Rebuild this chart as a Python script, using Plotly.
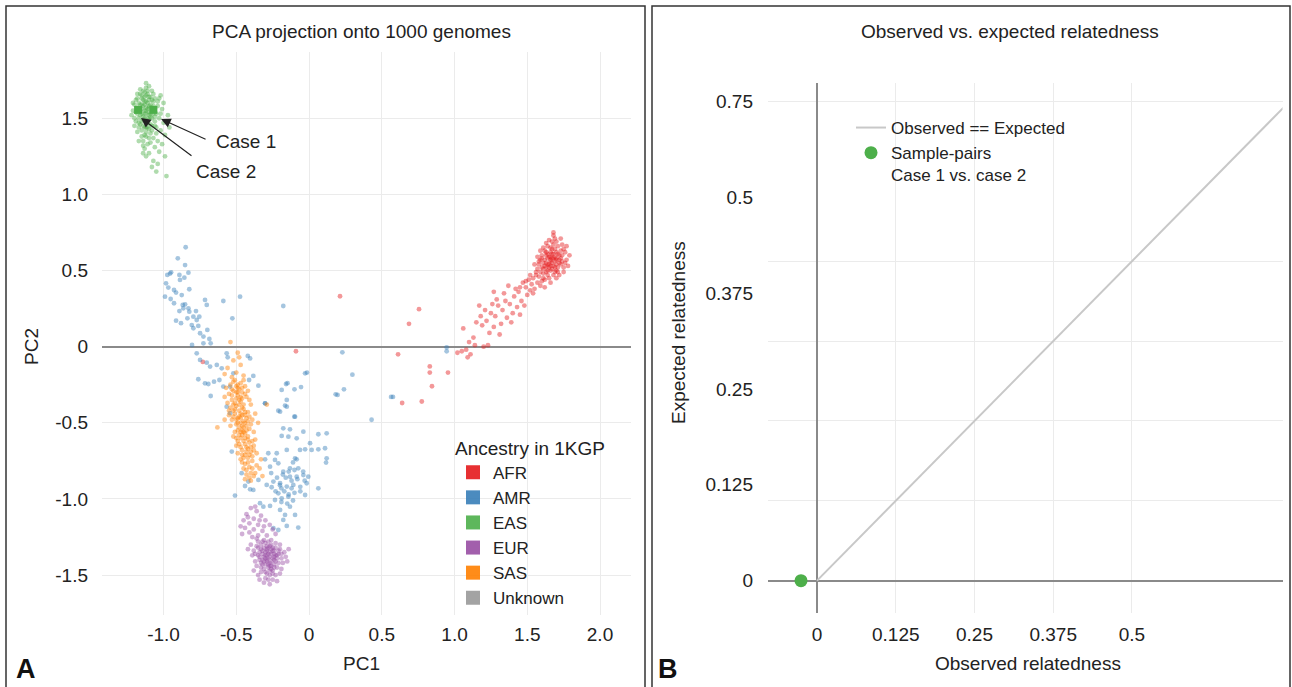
import plotly.graph_objects as go

W, H = 1292, 687

# ---------------- data ----------------
groups = ["AFR", "AMR", "EAS", "EUR", "SAS", "Unknown"]
group_colors = ["#E41A1C", "#377EB8", "#4DAF4A", "#984EA3", "#FF7F00", "#999999"]

eas_points = [
    (-1.13,1.55),(-1.10,1.58),(-1.16,1.52),(-1.12,1.61),(-1.08,1.50),(-1.15,1.63),(-1.11,1.47),(-1.18,1.57),(-1.06,1.56),(-1.14,1.49),
    (-1.09,1.64),(-1.12,1.53),(-1.17,1.60),(-1.07,1.61),(-1.13,1.44),(-1.10,1.52),(-1.19,1.54),(-1.05,1.53),(-1.14,1.58),(-1.11,1.66),
    (-1.16,1.46),(-1.08,1.45),(-1.12,1.41),(-1.15,1.56),(-1.09,1.59),(-1.13,1.67),(-1.20,1.59),(-1.04,1.58),(-1.10,1.43),(-1.17,1.50),
    (-1.07,1.53),(-1.13,1.50),(-1.11,1.56),(-1.14,1.62),(-1.06,1.48),(-1.18,1.63),(-1.12,1.38),(-1.09,1.40),(-1.15,1.42),(-1.10,1.62),
    (-1.16,1.66),(-1.08,1.68),(-1.12,1.70),(-1.14,1.35),(-1.07,1.37),(-1.11,1.33),(-1.05,1.44),(-1.03,1.50),(-1.19,1.48),(-1.21,1.55),
    (-1.13,1.59),(-1.10,1.49),(-1.15,1.53),(-1.08,1.55),(-1.12,1.47),(-1.17,1.44),(-1.06,1.63),(-1.14,1.68),(-1.10,1.71),(-1.16,1.69),
    (-1.09,1.34),(-1.13,1.30),(-1.06,1.31),(-1.10,1.27),(-1.04,1.35),(-1.02,1.42),(-1.15,1.38),(-1.12,1.25),(-1.07,1.22),(-1.03,1.28),
    (-1.18,1.41),(-1.20,1.50),(-1.11,1.60),(-1.13,1.64),(-1.09,1.46),(-1.14,1.45),(-1.07,1.58),(-1.12,1.57),(-1.16,1.59),(-1.10,1.54),
    (-1.12,1.73),(-1.01,1.56),(-1.00,1.47),(-1.08,1.18),(-0.99,1.25),(-1.04,1.20),(-0.98,1.12),(-1.05,1.15),(-1.14,1.27),(-1.17,1.35),
    (-1.09,1.51),(-1.11,1.44),(-1.15,1.48),(-1.13,1.53),(-1.06,1.51),(-1.08,1.62),(-1.12,1.65),(-1.18,1.53),(-1.10,1.37),(-1.05,1.40),
    (-1.12,1.55),(-1.14,1.51),(-1.10,1.57),(-1.16,1.55),(-1.09,1.53),(-1.13,1.61),(-1.11,1.50),(-1.15,1.59),(-1.08,1.57),(-1.12,1.44),
    (-1.17,1.47),(-1.06,1.45),(-1.13,1.39),(-1.10,1.64),(-1.19,1.62),(-1.04,1.61),(-1.15,1.65),(-1.11,1.68),(-1.08,1.42),(-1.14,1.32),
    (-1.20,1.45),(-1.02,1.53),(-1.18,1.66),(-1.07,1.66),(-1.21,1.60),
    (-1.00,1.60),(-0.97,1.52),(-1.02,1.65),(-0.99,1.39),(-1.22,1.52),(-1.01,1.33),(-0.96,1.44),(-1.03,1.63),
]

afr_points = [
    (1.66,0.56),(1.70,0.58),(1.62,0.53),(1.68,0.61),(1.64,0.50),(1.72,0.55),(1.59,0.57),(1.67,0.64),(1.74,0.60),(1.61,0.48),
    (1.69,0.52),(1.65,0.59),(1.71,0.66),(1.57,0.51),(1.63,0.62),(1.75,0.52),(1.68,0.47),(1.60,0.60),(1.73,0.63),(1.66,0.53),
    (1.62,0.57),(1.70,0.50),(1.64,0.66),(1.77,0.57),(1.58,0.46),(1.67,0.69),(1.72,0.47),(1.55,0.54),(1.69,0.56),(1.65,0.45),
    (1.63,0.55),(1.71,0.61),(1.60,0.52),(1.68,0.58),(1.66,0.62),(1.74,0.67),(1.56,0.49),(1.64,0.58),(1.70,0.54),(1.62,0.44),
    (1.67,0.51),(1.73,0.58),(1.59,0.63),(1.65,0.70),(1.76,0.62),(1.61,0.55),(1.69,0.64),(1.54,0.45),(1.78,0.53),(1.66,0.59),
    (1.63,0.49),(1.71,0.52),(1.68,0.73),(1.70,0.69),(1.58,0.54),(1.64,0.61),(1.72,0.57),(1.67,0.55),(1.60,0.43),(1.65,0.52),
    (1.53,0.41),(1.57,0.42),(1.62,0.39),(1.55,0.38),(1.51,0.44),(1.59,0.40),(1.49,0.39),(1.66,0.42),(1.70,0.45),(1.75,0.49),
    (1.68,0.67),(1.63,0.68),(1.73,0.71),(1.77,0.66),(1.61,0.65),(1.79,0.60),(1.57,0.59),(1.69,0.49),(1.64,0.54),(1.66,0.57),
    (1.67,0.58),(1.63,0.60),(1.70,0.62),(1.65,0.54),(1.61,0.51),(1.72,0.60),(1.68,0.53),(1.66,0.65),(1.59,0.49),(1.74,0.56),
    (1.64,0.47),(1.69,0.59),(1.62,0.63),(1.71,0.49),(1.67,0.61),(1.58,0.56),(1.75,0.64),(1.60,0.58),(1.73,0.54),(1.66,0.50),
    (1.56,0.47),(1.52,0.47),(1.49,0.43),(1.45,0.39),(1.54,0.35),(1.61,0.45),(1.76,0.55),(1.69,0.71),(1.63,0.52),(1.70,0.57),
    (1.47,0.42),(1.44,0.36),(1.50,0.34),(1.46,0.30),(1.41,0.33),(1.52,0.37),(1.38,0.28),(1.43,0.26),(1.35,0.30),(1.40,0.22),
    (1.33,0.24),(1.36,0.19),(1.30,0.27),(1.28,0.20),(1.32,0.15),(1.25,0.22),(1.27,0.13),(1.22,0.17),(1.24,0.09),(1.19,0.14),
    (1.21,0.24),(1.48,0.27),(1.45,0.21),(1.39,0.16),(1.34,0.35),(1.29,0.31),(1.42,0.38),(1.37,0.40),(1.26,0.28),(1.31,0.08),
    (1.18,0.20),(1.15,0.16),(1.13,0.06),(1.10,0.03),(1.08,-0.02),(1.11,-0.05),(1.05,-0.03),(1.02,-0.04),(1.09,-0.07),(1.14,0.01),
    (1.20,0.00),(1.23,0.01),(1.06,0.12),(1.17,0.27),(1.27,0.36),(1.68,0.75),
    (0.756,0.246),(0.687,0.15),(0.612,-0.05),(0.83,-0.13),(0.83,-0.17),(0.955,-0.17),(0.845,-0.26),(0.64,-0.37),
    (0.775,-0.36),(0.213,0.331),(-0.09,-0.03),(-0.73,-0.10),
]

amr_points = [
    (-0.848,0.653),(-0.902,0.580),(-0.852,0.536),(-0.955,0.480),
    (-0.974,0.471),(-0.948,0.488),(-0.891,0.471),(-0.887,0.438),(-0.857,0.453),(-0.829,0.486),(-0.983,0.416),(-0.967,0.388),
    (-0.928,0.372),(-0.914,0.355),(-0.875,0.339),(-0.823,0.377),(-0.990,0.328),(-0.951,0.313),(-0.928,0.285),(-0.868,0.274),
    (-0.852,0.278),(-0.891,0.234),(-0.864,0.252),(-0.829,0.252),(-0.823,0.230),(-0.914,0.171),(-0.880,0.154),(-0.836,0.186),
    (-0.795,0.197),(-0.777,0.234),(-0.772,0.175),(-0.754,0.197),(-0.806,0.142),(-0.795,0.121),(-0.761,0.136),(-0.749,0.088),
    (-0.726,0.066),(-0.699,0.110),(-0.685,0.051),(-0.726,0.022),(-0.676,0.022),(-0.804,0.011),(-0.715,0.307),(-0.703,0.274),
    (-0.589,0.300),(-0.474,0.328),(-0.527,0.186),(-0.177,0.267),
    (-0.772,-0.044),(-0.749,-0.087),(-0.703,-0.105),(-0.680,-0.131),(-0.634,-0.120),(-0.600,-0.142),(-0.566,-0.044),(-0.559,-0.070),
    (-0.761,-0.214),(-0.715,-0.241),(-0.692,-0.245),(-0.653,-0.230),(-0.616,-0.219),(-0.589,-0.262),(-0.676,-0.324),(-0.543,-0.262),
    (-0.520,-0.175),(-0.421,-0.061),(-0.405,-0.077),(-0.412,-0.219),(-0.383,-0.192),(-0.348,-0.256),(-0.302,-0.372),(-0.211,-0.420),
    (-0.158,-0.245),(-0.188,-0.284),(-0.153,-0.350),(-0.165,-0.387),(-0.101,-0.460),(-0.055,-0.265),(-0.027,-0.175),(0.183,-0.313),
    (0.229,-0.037),(0.298,-0.184),(-0.566,-0.394),(-0.543,-0.437),(0.240,-0.280),(0.196,-0.317),(0.577,-0.330),(0.430,-0.480),
    (-0.014,-0.170),(-0.148,-0.240),(-0.100,-0.280),(0.946,-0.004),(0.946,-0.030),(0.564,-0.330),
    (-0.302,-0.372),(-0.153,-0.394),(-0.199,-0.427),(-0.096,-0.460),(-0.177,-0.536),(-0.131,-0.543),(-0.039,-0.558),(0.064,-0.575),
    (0.121,-0.569),(-0.188,-0.586),(-0.142,-0.591),(-0.085,-0.602),(0.007,-0.634),(0.018,-0.678),(0.064,-0.674),(0.110,-0.667),
    (0.121,-0.733),(0.117,-0.761),(-0.027,-0.674),(-0.062,-0.678),(-0.153,-0.678),(-0.222,-0.700),(-0.280,-0.700),(-0.302,-0.740),
    (-0.234,-0.744),(-0.211,-0.766),(-0.268,-0.788),(-0.096,-0.733),(-0.085,-0.740),(-0.131,-0.799),(-0.074,-0.799),(-0.177,-0.821),
    (-0.131,-0.854),(-0.085,-0.854),(-0.039,-0.843),(-0.005,-0.854),(-0.016,-0.897),(-0.108,-0.908),(-0.153,-0.919),(-0.199,-0.897),
    (-0.245,-0.886),(-0.257,-0.923),(-0.291,-0.908),(-0.348,-0.875),(-0.383,-0.941),(-0.405,-0.937),(-0.417,-0.886),(-0.440,-0.915),
    (-0.211,-0.963),(-0.188,-0.996),(-0.142,-0.985),(-0.234,-1.007),(-0.268,-1.046),(-0.199,-1.072),(-0.165,-1.105),(-0.131,-1.051),
    (-0.096,-1.105),(-0.177,-1.138),(-0.153,-1.177),(-0.074,-1.188),(-0.027,-0.974),(0.064,-0.930),(-0.509,-0.978),(-0.531,-0.689),
    (-0.463,-0.831),(-0.337,-1.028),(-0.314,-1.051),(-0.245,-1.192),(-0.211,-1.204),
    (-0.120,-0.880),(-0.170,-0.950),(-0.100,-0.960),(-0.220,-0.860),(-0.060,-0.920),(-0.140,-0.820),(-0.190,-0.930),(-0.110,-1.010),
    (-0.16,-0.86),(-0.12,-0.93),(-0.20,-0.91),(-0.08,-0.87),(-0.14,-0.97),(-0.18,-0.84),(-0.10,-0.81),(-0.23,-0.95),
    (-0.06,-0.95),(-0.15,-1.03),(-0.26,-0.83),(-0.04,-0.82),(-0.19,-1.02),(-0.11,-0.76),(-0.03,-0.88),
]

eur_points = [
    (-0.40,-1.06),(-0.36,-1.08),(-0.43,-1.10),(-0.33,-1.11),(-0.38,-1.13),(-0.45,-1.14),(-0.30,-1.14),(-0.41,-1.16),(-0.35,-1.17),(-0.27,-1.17),
    (-0.44,-1.19),(-0.38,-1.20),(-0.32,-1.21),(-0.25,-1.20),(-0.41,-1.22),(-0.46,-1.23),(-0.35,-1.24),(-0.29,-1.24),(-0.39,-1.25),(-0.23,-1.23),
    (-0.37,-1.05),(-0.42,-1.12),(-0.31,-1.18),(-0.47,-1.18),(-0.34,-1.14),
    (-0.28,-1.36),(-0.25,-1.34),(-0.31,-1.38),(-0.27,-1.31),(-0.22,-1.37),(-0.33,-1.33),(-0.29,-1.41),(-0.24,-1.40),(-0.30,-1.29),(-0.26,-1.44),
    (-0.35,-1.37),(-0.20,-1.33),(-0.32,-1.43),(-0.27,-1.38),(-0.23,-1.29),(-0.29,-1.34),(-0.36,-1.31),(-0.19,-1.39),(-0.31,-1.46),(-0.25,-1.47),
    (-0.28,-1.32),(-0.34,-1.40),(-0.21,-1.42),(-0.30,-1.35),(-0.26,-1.27),(-0.38,-1.34),(-0.24,-1.36),(-0.32,-1.28),(-0.17,-1.35),(-0.29,-1.49),
    (-0.27,-1.42),(-0.33,-1.45),(-0.22,-1.45),(-0.37,-1.41),(-0.26,-1.33),(-0.30,-1.39),(-0.23,-1.32),(-0.35,-1.28),(-0.28,-1.45),(-0.20,-1.30),
    (-0.31,-1.32),(-0.25,-1.39),(-0.39,-1.37),(-0.18,-1.42),(-0.27,-1.50),(-0.34,-1.35),(-0.24,-1.43),(-0.29,-1.37),(-0.21,-1.36),(-0.32,-1.40),
    (-0.26,-1.30),(-0.36,-1.44),(-0.16,-1.38),(-0.30,-1.52),(-0.23,-1.50),(-0.33,-1.48),(-0.28,-1.28),(-0.40,-1.30),(-0.19,-1.46),(-0.35,-1.50),
    (-0.25,-1.53),(-0.31,-1.55),(-0.27,-1.56),(-0.22,-1.54),(-0.29,-1.33),(-0.26,-1.41),(-0.30,-1.43),(-0.24,-1.34),(-0.32,-1.36),(-0.28,-1.39),
    (-0.14,-1.33),(-0.15,-1.41),(-0.42,-1.33),(-0.38,-1.47),(-0.20,-1.49),(-0.34,-1.53),(-0.27,-1.47),(-0.23,-1.41),(-0.33,-1.30),(-0.36,-1.26),
    (-0.27,-1.35),(-0.30,-1.37),(-0.24,-1.38),(-0.29,-1.40),(-0.26,-1.36),(-0.22,-1.39),(-0.32,-1.34),(-0.28,-1.43),(-0.25,-1.32),(-0.31,-1.41),
    (-0.21,-1.34),(-0.34,-1.38),(-0.27,-1.44),(-0.23,-1.37),(-0.29,-1.31),(-0.33,-1.42),(-0.26,-1.46),(-0.30,-1.48),(-0.24,-1.45),(-0.37,-1.36),
    (-0.19,-1.36),(-0.28,-1.53),(-0.35,-1.32),(-0.25,-1.49),(-0.31,-1.27),
]

sas_points = [
    (-0.54,0.03),(-0.49,-0.04),(-0.52,-0.09),(-0.47,-0.12),(-0.56,-0.14),(-0.50,-0.17),(-0.45,-0.19),(-0.53,-0.20),(-0.58,-0.18),(-0.48,-0.07),
    (-0.51,-0.22),(-0.47,-0.24),(-0.54,-0.25),(-0.49,-0.27),(-0.44,-0.26),(-0.52,-0.29),(-0.46,-0.30),(-0.55,-0.31),(-0.49,-0.32),(-0.43,-0.33),
    (-0.50,-0.34),(-0.53,-0.35),(-0.47,-0.36),(-0.41,-0.35),(-0.56,-0.37),(-0.45,-0.38),(-0.50,-0.39),(-0.48,-0.28),(-0.52,-0.23),(-0.45,-0.22),
    (-0.57,-0.27),(-0.42,-0.29),(-0.51,-0.37),(-0.46,-0.40),(-0.54,-0.40),(-0.48,-0.35),(-0.44,-0.31),(-0.50,-0.30),(-0.53,-0.32),(-0.47,-0.33),
    (-0.40,-0.38),(-0.58,-0.33),(-0.49,-0.25),(-0.46,-0.27),(-0.52,-0.38),
    (-0.48,-0.42),(-0.44,-0.43),(-0.51,-0.44),(-0.46,-0.45),(-0.41,-0.46),(-0.49,-0.47),(-0.53,-0.48),(-0.45,-0.49),(-0.39,-0.48),(-0.47,-0.50),
    (-0.50,-0.51),(-0.43,-0.52),(-0.48,-0.53),(-0.54,-0.52),(-0.41,-0.54),(-0.46,-0.55),(-0.51,-0.56),(-0.44,-0.57),(-0.38,-0.56),(-0.48,-0.58),
    (-0.42,-0.59),(-0.50,-0.60),(-0.45,-0.41),(-0.52,-0.46),(-0.43,-0.47),(-0.47,-0.44),(-0.40,-0.51),(-0.49,-0.55),(-0.45,-0.53),(-0.55,-0.45),
    (-0.37,-0.44),(-0.46,-0.58),(-0.52,-0.59),(-0.44,-0.50),(-0.48,-0.46),(-0.63,-0.53),(-0.58,-0.48),(-0.35,-0.50),(-0.42,-0.43),(-0.47,-0.56),
    (-0.45,-0.62),(-0.41,-0.63),(-0.48,-0.64),(-0.43,-0.66),(-0.38,-0.65),(-0.46,-0.68),(-0.40,-0.69),(-0.44,-0.71),(-0.36,-0.70),(-0.42,-0.73),
    (-0.47,-0.74),(-0.39,-0.75),(-0.44,-0.77),(-0.41,-0.79),(-0.36,-0.78),(-0.43,-0.81),(-0.40,-0.83),(-0.38,-0.85),(-0.34,-0.80),(-0.41,-0.86),
    (-0.45,-0.80),(-0.33,-0.74),(-0.49,-0.70),(-0.42,-0.67),(-0.37,-0.61),(-0.50,-0.65),(-0.44,-0.64),(-0.39,-0.72),(-0.46,-0.76),(-0.42,-0.76),
    (-0.37,-0.83),(-0.32,-0.85),(-0.29,-0.38),(-0.40,-0.88),(-0.44,-0.87),
    (-0.49,-0.30),(-0.46,-0.34),(-0.51,-0.41),(-0.47,-0.47),(-0.44,-0.45),(-0.49,-0.50),(-0.45,-0.56),(-0.42,-0.61),(-0.47,-0.60),(-0.43,-0.69),
    (-0.40,-0.66),(-0.45,-0.73),(-0.41,-0.71),(-0.52,-0.42),(-0.48,-0.38),(-0.50,-0.26),(-0.53,-0.28),(-0.46,-0.52),(-0.43,-0.55),(-0.50,-0.48),
    (-0.39,-0.62),(-0.44,-0.60),(-0.47,-0.66),(-0.42,-0.49),(-0.55,-0.42),(-0.49,-0.62),(-0.38,-0.68),(-0.43,-0.84),(-0.39,-0.80),(-0.46,-0.71),
]

case_labels = ["Case 1", "Case 2"]
case_pc1 = [-1.07, -1.175]
case_pc2 = [1.555, 1.555]

pc1_ticks = [-1.0, -0.5, 0, 0.5, 1.0, 1.5, 2.0]
pc1_ticktext = ["-1.0", "-0.5", "0", "0.5", "1.0", "1.5", "2.0"]
pc2_ticks = [-1.5, -1.0, -0.5, 0, 0.5, 1.0, 1.5]
pc2_ticktext = ["-1.5", "-1.0", "-0.5", "0", "0.5", "1.0", "1.5"]

# relatedness panel
pair_observed = [-0.0254]
pair_expected = [0.0]
identity_line = [0.0, 0.75]
obs_ticks = [0, 0.125, 0.25, 0.375, 0.5]
obs_ticktext = ["0", "0.125", "0.25", "0.375", "0.5"]
exp_label_pos = [0, 0.15, 0.30, 0.45, 0.60, 0.75]
exp_ticktext = ["0", "0.125", "0.25", "0.375", "0.5", "0.75"]
exp_grid = [0.125, 0.25, 0.375, 0.5, 0.75]

# ---------------- figure ----------------
FONT = "Liberation Sans, Arial, Helvetica, sans-serif"
FS = 19
LFS = 17
TXT = "#222222"
GRID = "#ebebeb"
ZERO = "#8a8a8a"

def px_x(p):
    return p / W

def px_y(p):
    return 1 - p / H

fig = go.Figure()

cloud = {"AFR": afr_points, "AMR": amr_points, "EAS": eas_points,
         "EUR": eur_points, "SAS": sas_points}
for g, c in zip(groups, group_colors):
    pts = cloud.get(g)
    if pts:
        fig.add_trace(go.Scatter(
            x=[p[0] for p in pts], y=[p[1] for p in pts], mode="markers",
            marker=dict(size=4.8, color=c, opacity=0.45, line=dict(width=0)),
            showlegend=False, xaxis="x", yaxis="y", hoverinfo="skip"))

fig.add_trace(go.Scatter(
    x=case_pc1, y=case_pc2, mode="markers", text=case_labels,
    marker=dict(symbol="square", size=8, color="#4DAF4A"),
    showlegend=False, xaxis="x", yaxis="y"))

# legend entries
for g, c in zip(groups, group_colors):
    fig.add_trace(go.Scatter(
        x=[None], y=[None], mode="markers", name=g,
        marker=dict(symbol="square", size=14, color=c, opacity=0.9),
        xaxis="x", yaxis="y", legend="legend"))

# right panel
fig.add_trace(go.Scatter(
    x=identity_line, y=identity_line, mode="lines", name="Observed == Expected",
    line=dict(color="#c8c8c8", width=2), xaxis="x2", yaxis="y2", legend="legend2"))
fig.add_trace(go.Scatter(
    x=pair_observed, y=pair_expected, mode="markers",
    name="Sample-pairs<br>Case 1 vs. case 2",
    marker=dict(size=13, color="#4DAF4A"), xaxis="x2", yaxis="y2",
    legend="legend2", cliponaxis=False))

axis_common = dict(showline=False, ticks="", tickfont=dict(size=FS, color=TXT, family=FONT),
                   gridcolor=GRID, gridwidth=1, fixedrange=True)

fig.update_layout(
    width=W, height=H, margin=dict(l=0, r=0, t=0, b=0),
    paper_bgcolor="white", plot_bgcolor="white",
    font=dict(family=FONT, size=FS, color=TXT),
    xaxis=dict(domain=[px_x(102), px_x(631)], range=[-1.423, 2.213], anchor="y",
               tickvals=pc1_ticks, ticktext=pc1_ticktext, zeroline=False,
               ticklabelstandoff=6, **axis_common),
    yaxis=dict(domain=[px_y(615), px_y(52)], range=[-1.762, 1.935], anchor="x",
               tickvals=pc2_ticks, ticktext=pc2_ticktext, zeroline=True,
               zerolinecolor=ZERO, zerolinewidth=1.5, ticklabelstandoff=13, **axis_common),
    xaxis2=dict(domain=[px_x(768), px_x(1282.5)], range=[-0.0778, 0.739], anchor="y2",
                tickvals=obs_ticks, ticktext=obs_ticktext, zeroline=True,
                zerolinecolor=ZERO, zerolinewidth=1.5, ticklabelstandoff=8, **axis_common),
    yaxis2=dict(domain=[px_y(613), px_y(83)], range=[-0.0506, 0.779], anchor="x2",
                tickvals=exp_label_pos, ticktext=exp_ticktext, showgrid=False,
                minor=dict(tickvals=exp_grid, showgrid=True, gridcolor=GRID, gridwidth=1, ticks=""),
                zeroline=True, zerolinecolor=ZERO, zerolinewidth=1.5, ticklabelstandoff=14,
                **axis_common),
    legend=dict(title=dict(text="Ancestry in 1KGP", font=dict(size=FS, color=TXT)),
                x=px_x(453), xanchor="left", y=px_y(430), yanchor="top",
                font=dict(size=LFS, color=TXT), bgcolor="rgba(0,0,0,0)",
                itemsizing="trace", tracegroupgap=0),
    legend2=dict(x=px_x(851), xanchor="left", y=px_y(110), yanchor="top",
                 font=dict(size=LFS, color=TXT), bgcolor="rgba(0,0,0,0)", valign="top"),
    showlegend=True,
)

# panel frames
fig.add_shape(type="rect", xref="paper", yref="paper", x0=px_x(6), x1=px_x(645),
              y0=px_y(720), y1=px_y(6), line=dict(color="#333333", width=1.5), layer="below")
fig.add_shape(type="rect", xref="paper", yref="paper", x0=px_x(652), x1=px_x(1290),
              y0=px_y(720), y1=px_y(6), line=dict(color="#333333", width=1.5), layer="below")

def label(text, x, y, size=FS, bold=False, angle=0):
    fig.add_annotation(text=f"<b>{text}</b>" if bold else text, xref="paper", yref="paper",
                       x=px_x(x), y=px_y(y), xanchor="center", yanchor="middle",
                       showarrow=False, textangle=angle,
                       font=dict(size=size, color=TXT if not bold else "#111111", family=FONT))

label("PCA projection onto 1000 genomes", 361, 31)
label("Observed vs. expected relatedness", 1010, 31)
label("PC1", 361, 663)
label("PC2", 31, 347, angle=-90)
label("Observed relatedness", 1028, 663)
label("Expected relatedness", 678, 332, angle=-90)
label("A", 26, 669, size=27, bold=True)
label("B", 668, 669, size=27, bold=True)

# case arrows (tips in data space, tails as pixel offsets)
fig.add_annotation(x=-1.017, y=1.495, xref="x", yref="y", ax=46, ay=21, text="",
                   showarrow=True, arrowhead=2, arrowsize=1.6, arrowwidth=1.2, arrowcolor="#222222")
fig.add_annotation(x=-1.155, y=1.502, xref="x", yref="y", ax=52, ay=39, text="",
                   showarrow=True, arrowhead=2, arrowsize=1.6, arrowwidth=1.2, arrowcolor="#222222")
label(case_labels[0], 246, 141)
label(case_labels[1], 226, 171)

fig.write_html("out.html", config={"displayModeBar": False},
               post_script="document.body.style.margin='0px';document.body.style.overflow='hidden';")
